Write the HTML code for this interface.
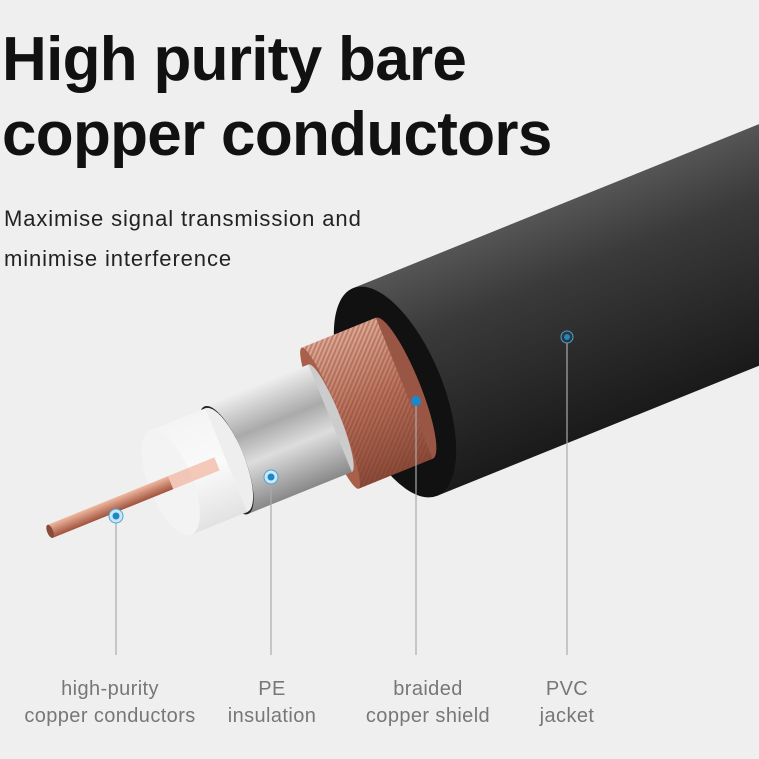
<!DOCTYPE html>
<html><head><meta charset="utf-8"><style>
html,body{margin:0;padding:0;background:#efefef;}
.w{position:relative;width:759px;height:759px;overflow:hidden;background:#efefef;font-family:"Liberation Sans",sans-serif;}
h1{position:absolute;left:2px;top:22px;margin:0;font-size:62px;line-height:75px;font-weight:bold;color:#111;letter-spacing:-0.7px;}
.sub{position:absolute;left:4px;top:199px;font-size:22px;line-height:40px;color:#222;letter-spacing:0.9px;}
.lb{position:absolute;top:676px;font-size:20px;line-height:27px;color:#777;text-align:center;width:240px;letter-spacing:0.4px;}
</style></head><body><div class="w">
<h1>High purity bare<br>copper conductors</h1>
<div class="sub">Maximise signal transmission and<br>minimise interference</div>
<svg width="759" height="759" style="position:absolute;left:0;top:0">
<defs>
<linearGradient id="jk" x1="0" y1="0" x2="0" y2="1"><stop offset="0" stop-color="#555"/><stop offset=".3" stop-color="#3a3a3a"/><stop offset="1" stop-color="#1a1a1a"/></linearGradient>
<linearGradient id="br" x1="0" y1="0" x2="0" y2="1"><stop offset="0" stop-color="#e0aa95"/><stop offset=".5" stop-color="#b8705a"/><stop offset="1" stop-color="#8a4a38"/></linearGradient>
<linearGradient id="fo" x1="0" y1="0" x2="0" y2="1"><stop offset="0" stop-color="#eee"/><stop offset=".35" stop-color="#aaa"/><stop offset=".6" stop-color="#ddd"/><stop offset="1" stop-color="#888"/></linearGradient>
<linearGradient id="pe" x1="0" y1="0" x2="0" y2="1"><stop offset="0" stop-color="#f4f4f4"/><stop offset=".5" stop-color="#fafafa"/><stop offset="1" stop-color="#e2e2e2"/></linearGradient>
<linearGradient id="cu" x1="0" y1="0" x2="0" y2="1"><stop offset="0" stop-color="#f0b8a0"/><stop offset="1" stop-color="#a0523c"/></linearGradient>
<pattern id="hatch" width="4" height="4" patternUnits="userSpaceOnUse" patternTransform="rotate(45)"><rect width="2" height="4" fill="#7a3a2a" opacity=".35"/></pattern>
</defs>
<g transform="translate(395,392) rotate(-22)">
<rect x="0" y="-112" width="700" height="224" fill="url(#jk)"/>
<ellipse cx="0" cy="0" rx="48" ry="112" fill="#111"/>
<ellipse cx="10" cy="0" rx="16" ry="76" fill="#9a5644"/>
<rect x="-70" y="-76" width="80" height="152" fill="url(#br)"/>
<rect x="-70" y="-76" width="80" height="152" fill="url(#hatch)"/>
<ellipse cx="-70" cy="0" rx="10" ry="76" fill="#a8604a"/>
<ellipse cx="-70" cy="0" rx="10" ry="58" fill="#ccc"/>
<rect x="-182" y="-58" width="112" height="116" fill="url(#fo)"/>
<ellipse cx="-182" cy="0" rx="18" ry="58" fill="#222"/>
<ellipse cx="-182" cy="0" rx="18" ry="56" fill="#eee"/>
<rect x="-242" y="-56" width="60" height="112" fill="url(#pe)"/>
<ellipse cx="-242" cy="0" rx="22" ry="56" fill="#f3f3f3"/>
<rect x="-372" y="-7" width="130" height="14" fill="url(#cu)"/>
<rect x="-242" y="-7" width="50" height="14" fill="#f2a890" opacity=".6"/>
<ellipse cx="-372" cy="0" rx="3" ry="7" fill="#8a4a3a"/>
</g>
<g stroke="#aaa" stroke-width="1.2"><line x1="116" y1="516" x2="116" y2="655"/><line x1="271" y1="477" x2="271" y2="655"/><line x1="416" y1="401" x2="416" y2="655"/><line x1="567" y1="337" x2="567" y2="655"/></g>
<g><circle cx="116" cy="516" r="7" fill="#cde7f5" stroke="#4aa3d8"/><circle cx="116" cy="516" r="3.5" fill="#1a88c9"/>
<circle cx="271" cy="477" r="7" fill="#cde7f5" stroke="#4aa3d8"/><circle cx="271" cy="477" r="3.5" fill="#1a88c9"/>
<circle cx="416" cy="401" r="5" fill="#1a88c9"/>
<circle cx="567" cy="337" r="6" fill="#333" stroke="#4aa3d8"/><circle cx="567" cy="337" r="3" fill="#1a88c9"/></g>
</svg>
<div class="lb" style="left:-10px">high-purity<br>copper conductors</div>
<div class="lb" style="left:152px">PE<br>insulation</div>
<div class="lb" style="left:308px">braided<br>copper shield</div>
<div class="lb" style="left:447px">PVC<br>jacket</div>
</div></body></html>
